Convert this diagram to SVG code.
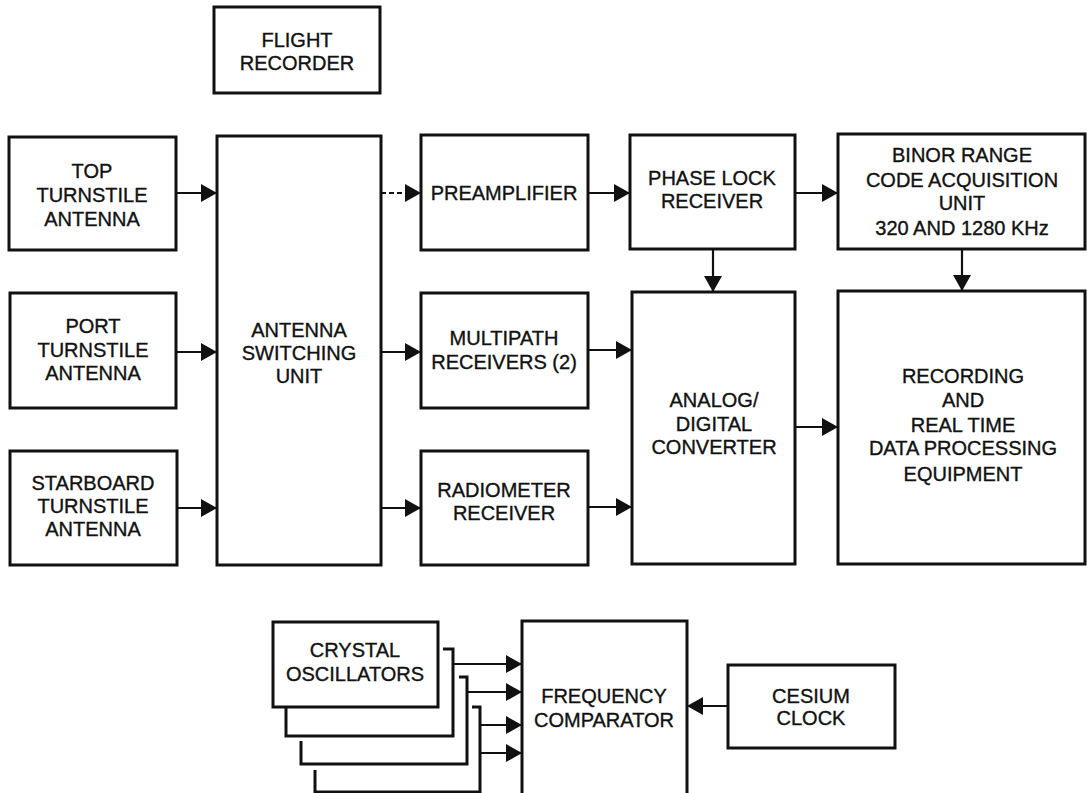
<svg xmlns="http://www.w3.org/2000/svg" width="1087" height="793" viewBox="0 0 1087 793">
<style>
.box{fill:none;stroke:#111;stroke-width:3}
.ln{fill:none;stroke:#111;stroke-width:2.2}
.t{font-family:"Liberation Sans",Arial,sans-serif;font-size:20px;fill:#111;stroke:#111;stroke-width:0.35;text-anchor:middle}
</style>
<defs>
<marker id="ah" markerWidth="16" markerHeight="18" refX="16" refY="9" orient="auto" markerUnits="userSpaceOnUse">
<path d="M0,0 L16,9 L0,18 Z" fill="#111"/>
</marker>
</defs>
<rect width="1087" height="793" fill="#fff"/>

<g id="flight-recorder"><rect class="box" x="214" y="7" width="166" height="86"/>
<text class="t" x="297" y="47">FLIGHT</text><text class="t" x="297" y="70">RECORDER</text></g>

<g id="top-antenna"><rect class="box" x="9" y="137" width="167" height="113"/>
<text class="t" x="92" y="178">TOP</text><text class="t" x="92" y="202">TURNSTILE</text><text class="t" x="92" y="226">ANTENNA</text></g>

<g id="port-antenna"><rect class="box" x="10" y="293" width="166" height="115"/>
<text class="t" x="93" y="333">PORT</text><text class="t" x="93" y="357">TURNSTILE</text><text class="t" x="93" y="380">ANTENNA</text></g>

<g id="starboard-antenna"><rect class="box" x="10" y="451" width="167" height="114"/>
<text class="t" x="93" y="490">STARBOARD</text><text class="t" x="93" y="513">TURNSTILE</text><text class="t" x="93" y="536">ANTENNA</text></g>

<g id="antenna-switching"><rect class="box" x="217" y="136" width="164" height="429"/>
<text class="t" x="299" y="337">ANTENNA</text><text class="t" x="299" y="360">SWITCHING</text><text class="t" x="299" y="383">UNIT</text></g>

<g id="preamplifier"><rect class="box" x="421" y="135" width="167" height="115"/>
<text class="t" x="504" y="200">PREAMPLIFIER</text></g>

<g id="multipath"><rect class="box" x="421" y="293" width="167" height="115"/>
<text class="t" x="504" y="345">MULTIPATH</text><text class="t" x="504" y="369">RECEIVERS (2)</text></g>

<g id="radiometer"><rect class="box" x="421" y="451" width="167" height="114"/>
<text class="t" x="504" y="497">RADIOMETER</text><text class="t" x="504" y="520">RECEIVER</text></g>

<g id="phase-lock"><rect class="box" x="630" y="135" width="165" height="114"/>
<text class="t" x="712" y="185">PHASE LOCK</text><text class="t" x="712" y="208">RECEIVER</text></g>

<g id="binor"><rect class="box" x="838" y="134" width="247" height="115"/>
<text class="t" x="962" y="162">BINOR RANGE</text><text class="t" x="962" y="187">CODE ACQUISITION</text><text class="t" x="962" y="210">UNIT</text><text class="t" x="962" y="235">320 AND 1280 KHz</text></g>

<g id="ad-converter"><rect class="box" x="632" y="292" width="163" height="272"/>
<text class="t" x="714" y="407">ANALOG/</text><text class="t" x="714" y="431">DIGITAL</text><text class="t" x="714" y="454">CONVERTER</text></g>

<g id="recording"><rect class="box" x="838" y="291" width="247" height="273"/>
<text class="t" x="963" y="383">RECORDING</text><text class="t" x="963" y="407">AND</text><text class="t" x="963" y="432">REAL TIME</text><text class="t" x="963" y="455">DATA PROCESSING</text><text class="t" x="963" y="481">EQUIPMENT</text></g>

<g id="crystal-oscillators">
<rect class="box" x="273" y="622" width="165" height="85"/>
<path class="box" d="M286,707 V736 H453 V649 H443"/>
<path class="box" d="M301,741 V764 H467 V677 H459"/>
<path class="box" d="M315,770 V792 H480 V707 H472"/>
<text class="t" x="355" y="657">CRYSTAL</text><text class="t" x="355" y="681">OSCILLATORS</text></g>

<g id="frequency-comparator"><rect class="box" x="522" y="621" width="165" height="180"/>
<text class="t" x="604" y="703">FREQUENCY</text><text class="t" x="604" y="727">COMPARATOR</text></g>

<g id="cesium-clock"><rect class="box" x="728" y="665" width="167" height="83"/>
<text class="t" x="811" y="703">CESIUM</text><text class="t" x="811" y="725">CLOCK</text></g>

<g id="connectors">
<line class="ln" x1="176" y1="193" x2="217" y2="193" marker-end="url(#ah)"/>
<line class="ln" x1="176" y1="352" x2="217" y2="352" marker-end="url(#ah)"/>
<line class="ln" x1="177" y1="508" x2="217" y2="508" marker-end="url(#ah)"/>
<line class="ln" x1="381" y1="193" x2="421" y2="193" stroke-dasharray="5 3" marker-end="url(#ah)"/>
<line class="ln" x1="381" y1="352" x2="421" y2="352" marker-end="url(#ah)"/>
<line class="ln" x1="381" y1="508" x2="421" y2="508" marker-end="url(#ah)"/>
<line class="ln" x1="588" y1="193" x2="630" y2="193" marker-end="url(#ah)"/>
<line class="ln" x1="588" y1="350" x2="632" y2="350" marker-end="url(#ah)"/>
<line class="ln" x1="588" y1="507" x2="632" y2="507" marker-end="url(#ah)"/>
<line class="ln" x1="795" y1="193" x2="838" y2="193" marker-end="url(#ah)"/>
<line class="ln" x1="713" y1="249" x2="713" y2="292" marker-end="url(#ah)"/>
<line class="ln" x1="962" y1="249" x2="962" y2="291" marker-end="url(#ah)"/>
<line class="ln" x1="795" y1="427" x2="838" y2="427" marker-end="url(#ah)"/>
<line class="ln" x1="453" y1="664" x2="522" y2="664" marker-end="url(#ah)"/>
<line class="ln" x1="467" y1="692" x2="522" y2="692" marker-end="url(#ah)"/>
<line class="ln" x1="480" y1="725" x2="522" y2="725" marker-end="url(#ah)"/>
<line class="ln" x1="480" y1="753" x2="522" y2="753" marker-end="url(#ah)"/>
<line class="ln" x1="728" y1="706" x2="687" y2="706" marker-end="url(#ah)"/>
</g>
</svg>
